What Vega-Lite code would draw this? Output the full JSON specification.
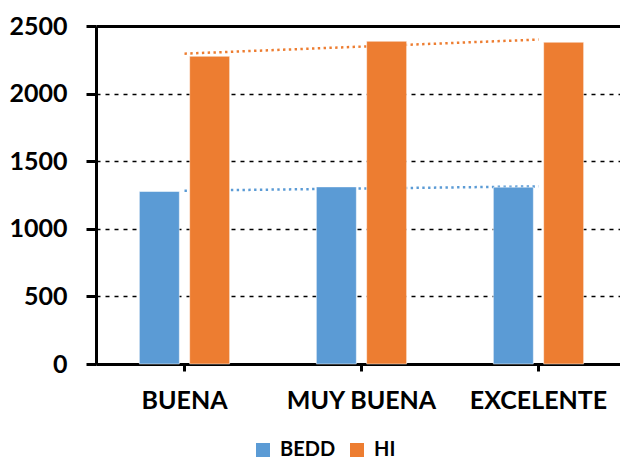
{
  "$schema": "https://vega.github.io/schema/vega-lite/v6.json",
  "autosize": {"type": "none"},
  "padding": {"left": 96, "top": 26, "right": 0, "bottom": 93},
  "width": 524,
  "height": 338,
  "background": "white",
  "config": {
    "view": {"stroke": null},
    "font": "Lato",
    "axis": {"labelFont": "Lato", "labelFontWeight": "bold", "labelColor": "#000", "labelFontSize": 25}
  },
  "data": {
    "values": [
      {"calidad": "BUENA", "idx": 1, "serie": "BEDD", "valor": 1276},
      {"calidad": "BUENA", "idx": 1, "serie": "HI", "valor": 2276},
      {"calidad": "MUY BUENA", "idx": 2, "serie": "BEDD", "valor": 1310},
      {"calidad": "MUY BUENA", "idx": 2, "serie": "HI", "valor": 2387},
      {"calidad": "EXCELENTE", "idx": 3, "serie": "BEDD", "valor": 1308},
      {"calidad": "EXCELENTE", "idx": 3, "serie": "HI", "valor": 2380}
    ]
  },
  "layer": [
    {
      "transform": [
        {"regression": "valor", "on": "idx", "groupby": ["serie"]},
        {
          "lookup": "idx",
          "from": {
            "data": {"values": [
              {"idx": 1, "calidad": "BUENA"},
              {"idx": 2, "calidad": "MUY BUENA"},
              {"idx": 3, "calidad": "EXCELENTE"}
            ]},
            "key": "idx",
            "fields": ["calidad"]
          }
        }
      ],
      "mark": {"type": "line", "strokeWidth": 2.5, "strokeDash": [2.4, 3.4]},
      "encoding": {
        "x": {"field": "calidad", "type": "nominal"},
        "y": {"field": "valor", "type": "quantitative"},
        "color": {"field": "serie", "type": "nominal"}
      }
    },
    {
      "mark": {"type": "bar", "stroke": "white", "strokeWidth": 1, "strokeOpacity": 0.5},
      "encoding": {
        "x": {
          "field": "calidad",
          "type": "nominal",
          "scale": {
            "domain": ["BUENA", "MUY BUENA", "EXCELENTE"],
            "range": [0, 531],
            "paddingInner": 0,
            "paddingOuter": 0
          },
          "axis": {
            "title": null,
            "labelAngle": 0,
            "labelAlign": "center",
            "bandPosition": 0.5,
            "ticks": true,
            "domainColor": "#000",
            "domainWidth": 3,
            "tickColor": "#000",
            "tickWidth": 3,
            "tickSize": 7,
            "labelPadding": 29,
            "grid": false
          }
        },
        "xOffset": {
          "field": "serie",
          "type": "nominal",
          "scale": {"domain": ["BEDD", "HI"], "paddingInner": 0.205, "paddingOuter": 0.862}
        },
        "y": {
          "field": "valor",
          "type": "quantitative",
          "scale": {"domain": [0, 2500], "nice": false},
          "axis": {
            "title": null,
            "format": "d",
            "values": [0, 500, 1000, 1500, 2000, 2500],
            "domainColor": "#000",
            "domainWidth": 3,
            "tickColor": "#000",
            "tickWidth": 3,
            "tickSize": 10,
            "labelPadding": 19,
            "grid": true,
            "gridColor": "#000",
            "gridDash": {"condition": {"test": "datum.value == 2500", "value": []}, "value": [4, 5]},
            "gridWidth": {"condition": {"test": "datum.value == 2500", "value": 3}, "value": 1.3}
          }
        },
        "color": {
          "field": "serie",
          "type": "nominal",
          "scale": {"domain": ["BEDD", "HI"], "range": ["#5B9BD5", "#ED7D31"]},
          "legend": {
            "title": null,
            "orient": "none",
            "direction": "horizontal",
            "legendX": 157,
            "legendY": 414,
            "symbolType": "square",
            "symbolSize": 196,
            "symbolStrokeWidth": 0,
            "symbolDash": [],
            "symbolOpacity": 1,
            "labelFont": "Lato",
            "labelFontWeight": "bold",
            "labelFontSize": 20,
            "labelColor": "#000",
            "labelOffset": 7,
            "columnPadding": 11,
            "padding": 0
          }
        }
      }
    }
  ]
}
